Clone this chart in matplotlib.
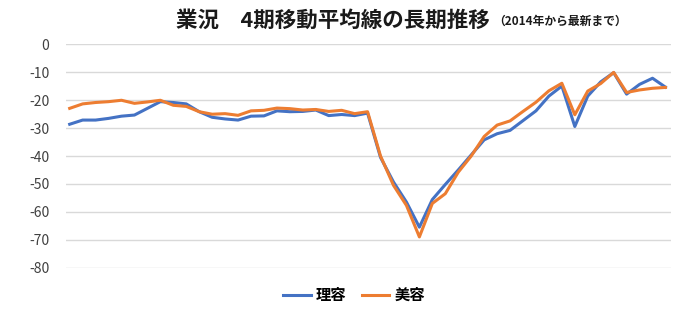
import matplotlib
matplotlib.use("Agg")
import matplotlib.pyplot as plt

plt.rcParams['font.family'] = ['Noto Sans CJK JP', 'DejaVu Sans']

# 4期移動平均 (2014年Q1から)
riyou = [-28.6, -27.1, -27.1, -26.5, -25.7, -25.3, -22.9, -20.5, -20.8, -21.3,
         -24.1, -26.1, -26.7, -27.1, -25.7, -25.6, -23.8, -24.1, -24.0, -23.5,
         -25.5, -25.1, -25.5, -24.6, -40.5, -49.3, -56.5, -65.5, -55.6, -50.2,
         -45.0, -39.6, -34.2, -32.0, -30.8, -27.3, -23.8, -18.5, -14.9, -29.4,
         -18.5, -13.4, -10.1, -17.8, -14.3, -12.1, -15.3]
biyou = [-22.9, -21.3, -20.8, -20.5, -20.0, -21.1, -20.6, -20.0, -21.8, -22.2,
         -24.1, -25.0, -24.8, -25.4, -23.8, -23.6, -22.8, -23.0, -23.5, -23.3,
         -24.0, -23.6, -24.8, -24.1, -40.0, -50.5, -57.7, -69.0, -57.0, -53.5,
         -45.8, -40.0, -33.0, -28.9, -27.4, -24.0, -20.7, -16.6, -13.9, -25.2,
         -16.7, -14.0, -10.0, -17.2, -16.3, -15.7, -15.4]
series_names = ['理容', '美容']
yticks = [0, -10, -20, -30, -40, -50, -60, -70, -80]

fig = plt.figure(figsize=(7, 3.09), dpi=100)
ax = fig.add_axes([0.094, 0.134, 0.865, 0.722])

x = list(range(len(riyou)))
ax.plot(x, riyou, color='#4472C4', lw=2.2, label=series_names[0], solid_joinstyle='round')
ax.plot(x, biyou, color='#ED7D31', lw=2.2, label=series_names[1], solid_joinstyle='round')

ax.set_ylim(-80, 0)
ax.set_xlim(-0.3, len(riyou) - 0.55)
ax.set_yticks(yticks)
ax.set_yticklabels([str(v) for v in yticks], color='#404040', fontsize=10)
ax.set_xticks([])
ax.tick_params(axis='y', length=0, pad=12)
ax.grid(axis='y', color='#D9D9D9', lw=1)
ax.set_axisbelow(True)
for s in ax.spines.values():
    s.set_visible(False)

fig.legend(loc='center', bbox_to_anchor=(0.506, 0.045), ncol=2, frameon=False,
           handlelength=1.8, columnspacing=1.0, handletextpad=0.35,
           prop={'size': 11, 'weight': 'bold'})

fig.text(0.70, 0.935, '業況　4期移動平均線の長期推移', ha='right', va='center',
         fontsize=15.5, fontweight='bold', color='#1a1a1a')
fig.text(0.704, 0.93, '（2014年から最新まで）', ha='left', va='center',
         fontsize=8.5, fontweight='bold', color='#1a1a1a')

fig.savefig('out.png', dpi=100)
